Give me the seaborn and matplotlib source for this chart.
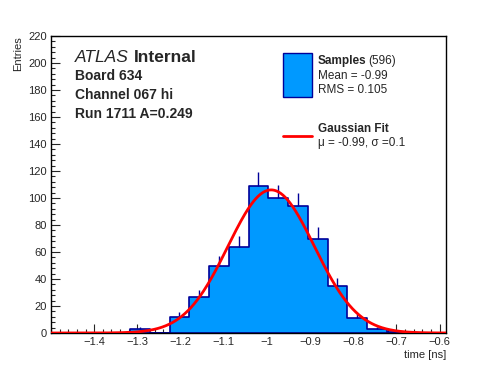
import numpy as np
import pandas as pd
import matplotlib.pyplot as plt
import seaborn as sns
from matplotlib.patches import Rectangle
from matplotlib.lines import Line2D
from matplotlib.ticker import FixedLocator, MultipleLocator, FuncFormatter

# histogram definition and contents
hist_lo, hist_hi, n_bins = -1.5, -0.585, 20
counts = [0, 0, 0, 0, 3, 0, 12, 27, 50, 64, 109, 100, 94, 70, 35, 11, 3, 1, 0, 0]

# gaussian fit parameters
fit_mu = -0.99
fit_sigma = 0.1
fit_amp = 106.0

x_major = [-1.4, -1.3, -1.2, -1.1, -1.0, -0.9, -0.8, -0.7, -0.6]

W, H = 496, 372
fill_col = "#0099ff"
edge_col = "#000099"

sns.set_style("ticks")
plt.rcParams["font.family"] = ["Liberation Sans", "DejaVu Sans"]

edges = np.linspace(hist_lo, hist_hi, n_bins + 1)
centers = 0.5 * (edges[:-1] + edges[1:])
df = pd.DataFrame({"time": centers, "n": counts})

xs = np.linspace(hist_lo, hist_hi, 500)
fit = pd.DataFrame({"time": xs,
                    "f": fit_amp * np.exp(-0.5 * ((xs - fit_mu) / fit_sigma) ** 2)})

fig = plt.figure(figsize=(W / 100, H / 100), dpi=100)
ax = fig.add_axes([51 / W, 1 - 333 / H, (446 - 51) / W, (333 - 36) / H])

sns.histplot(data=df, x="time", weights="n", bins=list(edges), element="step",
             fill=True, color=fill_col, edgecolor=edge_col, linewidth=1.2,
             alpha=1, ax=ax)

# upper half of the poisson error bars
nz = df[df["n"] > 0]
ax.vlines(nz["time"], nz["n"], nz["n"] + np.sqrt(nz["n"]), color=edge_col, lw=1)

sns.lineplot(data=fit, x="time", y="f", color="red", lw=2, ax=ax, zorder=5)

ax.set_xlim(hist_lo, hist_hi)
ax.set_ylim(0, 220)
ax.xaxis.set_major_locator(FixedLocator(x_major))
ax.xaxis.set_minor_locator(MultipleLocator(0.02))
ax.yaxis.set_major_locator(MultipleLocator(20))
ax.yaxis.set_minor_locator(MultipleLocator(4))
ax.xaxis.set_major_formatter(FuncFormatter(lambda v, p: ("%g" % round(v, 2)).replace("-", "\u2212")))
ax.tick_params(which="both", direction="in", top=False, right=False, labelsize=8)
ax.tick_params(which="major", length=6.5, width=0.8, pad=3)
ax.tick_params(which="minor", length=3.2, width=0.8)
for s in ax.spines.values():
    s.set_visible(True)
    s.set_linewidth(1)
    s.set_color("black")

ax.set_xlabel("time [ns]", loc="right", fontsize=8, labelpad=2)
ax.set_ylabel("Entries", loc="top", fontsize=8, labelpad=4)


def px(x, y):
    return x / W, 1 - y / H


t_atlas = fig.text(*px(75, 57), "ATLAS", style="italic", fontsize=12.5, va="center")
ax.annotate("Internal", xy=(1, 0.5), xycoords=t_atlas, xytext=(3.5, 0),
            textcoords="offset points", weight="bold", fontsize=12.5, va="center")
fig.text(*px(75, 76), "Board 634", weight="bold", fontsize=10, va="center")
fig.text(*px(75, 95), "Channel 067 hi", weight="bold", fontsize=10, va="center")
fig.text(*px(75, 114), "Run 1711 A=0.249", weight="bold", fontsize=10, va="center")

# legend
fig.patches.append(Rectangle(px(283, 97), 29 / W, 44 / H, transform=fig.transFigure,
                             facecolor=fill_col, edgecolor=edge_col, lw=1))
fig.lines.append(Line2D([283 / W, 312 / W], [1 - 136 / H] * 2, transform=fig.transFigure,
                        color="red", lw=2))
t_samp = fig.text(*px(318, 61), "Samples", weight="bold", fontsize=8.5, va="center")
ax.annotate("(596)", xy=(1, 0.5), xycoords=t_samp, xytext=(1.5, 0),
            textcoords="offset points", fontsize=8.5, va="center")
fig.text(*px(318, 76), "Mean = -0.99", fontsize=8.5, va="center")
fig.text(*px(318, 90), "RMS = 0.105", fontsize=8.5, va="center")
fig.text(*px(318, 129), "Gaussian Fit", weight="bold", fontsize=8.5, va="center")
fig.text(*px(318, 143), "\u03bc = -0.99, \u03c3 =0.1", fontsize=8.5, va="center")

fig.savefig("out.png", dpi=100)
